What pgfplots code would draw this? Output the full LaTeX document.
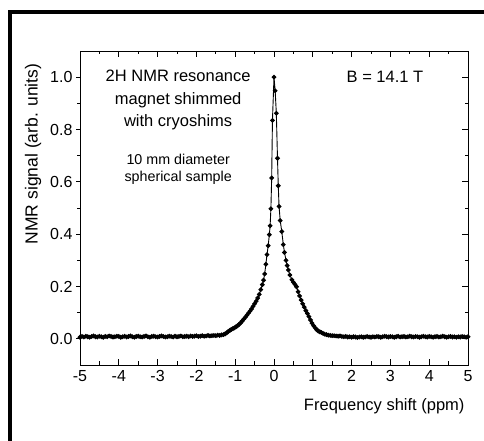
\documentclass[border=0pt]{standalone}
\usepackage{fontspec}
\setmainfont{Liberation Sans}
\usepackage{pgfplots}
\pgfplotsset{compat=1.18}

\pgfplotstableread{
x y
-5.00 0.006
-4.95 0.009
-4.90 0.007
-4.85 0.010
-4.80 0.008
-4.75 0.006
-4.70 0.009
-4.65 0.011
-4.60 0.008
-4.55 0.007
-4.50 0.010
-4.45 0.008
-4.40 0.006
-4.35 0.009
-4.30 0.008
-4.25 0.011
-4.20 0.009
-4.15 0.007
-4.10 0.008
-4.05 0.010
-4.00 0.009
-3.95 0.006
-3.90 0.008
-3.85 0.010
-3.80 0.007
-3.75 0.009
-3.70 0.011
-3.65 0.008
-3.60 0.006
-3.55 0.009
-3.50 0.010
-3.45 0.008
-3.40 0.007
-3.35 0.009
-3.30 0.011
-3.25 0.008
-3.20 0.006
-3.15 0.009
-3.10 0.010
-3.05 0.008
-3.00 0.007
-2.95 0.009
-2.90 0.011
-2.85 0.009
-2.80 0.007
-2.75 0.008
-2.70 0.010
-2.65 0.009
-2.60 0.007
-2.55 0.010
-2.50 0.008
-2.45 0.009
-2.40 0.011
-2.35 0.008
-2.30 0.009
-2.25 0.010
-2.20 0.008
-2.15 0.011
-2.10 0.009
-2.05 0.010
-2.00 0.012
-1.95 0.009
-1.90 0.010
-1.85 0.012
-1.80 0.010
-1.75 0.011
-1.70 0.013
-1.65 0.011
-1.60 0.012
-1.55 0.013
-1.50 0.012
-1.45 0.014
-1.40 0.013
-1.35 0.015
-1.30 0.016
-1.26 0.019
-1.22 0.023
-1.18 0.028
-1.14 0.032
-1.10 0.036
-1.06 0.039
-1.02 0.042
-0.98 0.046
-0.94 0.050
-0.90 0.055
-0.86 0.061
-0.82 0.068
-0.78 0.075
-0.74 0.082
-0.70 0.090
-0.66 0.098
-0.62 0.106
-0.58 0.114
-0.54 0.124
-0.50 0.134
-0.46 0.144
-0.42 0.156
-0.38 0.170
-0.34 0.188
-0.30 0.207
-0.27 0.224
-0.24 0.248
-0.21 0.285
-0.18 0.322
-0.15 0.356
-0.12 0.398
-0.10 0.432
-0.08 0.497
-0.06 0.615
-0.04 0.835
0.00 1.000
0.03 0.948
0.06 0.862
0.09 0.690
0.11 0.585
0.13 0.506
0.16 0.452
0.20 0.410
0.24 0.360
0.27 0.330
0.31 0.300
0.34 0.280
0.37 0.263
0.41 0.244
0.46 0.226
0.50 0.216
0.54 0.208
0.58 0.199
0.62 0.180
0.66 0.164
0.70 0.148
0.74 0.134
0.78 0.121
0.82 0.108
0.86 0.097
0.90 0.085
0.94 0.072
0.98 0.060
1.02 0.050
1.06 0.042
1.10 0.035
1.14 0.030
1.18 0.027
1.22 0.024
1.26 0.021
1.30 0.018
1.35 0.016
1.40 0.014
1.45 0.013
1.50 0.012
1.55 0.012
1.60 0.011
1.65 0.010
1.70 0.011
1.75 0.009
1.80 0.008
1.85 0.009
1.90 0.007
1.95 0.008
2.00 0.006
2.05 0.008
2.10 0.007
2.15 0.005
2.20 0.007
2.25 0.008
2.30 0.006
2.35 0.007
2.40 0.009
2.45 0.007
2.50 0.006
2.55 0.008
2.60 0.007
2.65 0.009
2.70 0.008
2.75 0.006
2.80 0.008
2.85 0.010
2.90 0.008
2.95 0.007
3.00 0.009
3.05 0.008
3.10 0.006
3.15 0.008
3.20 0.010
3.25 0.007
3.30 0.008
3.35 0.009
3.40 0.007
3.45 0.008
3.50 0.010
3.55 0.008
3.60 0.007
3.65 0.009
3.70 0.008
3.75 0.006
3.80 0.008
3.85 0.010
3.90 0.008
3.95 0.007
4.00 0.009
4.05 0.008
4.10 0.006
4.15 0.008
4.20 0.009
4.25 0.007
4.30 0.008
4.35 0.010
4.40 0.008
4.45 0.006
4.50 0.008
4.55 0.009
4.60 0.007
4.65 0.008
4.70 0.006
4.75 0.008
4.80 0.007
4.85 0.009
4.90 0.008
4.95 0.006
5.00 0.008
}\nmrdata

\begin{document}
\begin{tikzpicture}
\path[use as bounding box] (0,0) rectangle (484pt,441pt);
\draw[line width=4pt] (10pt,0) -- (10pt,429pt) -- (486pt,429pt);

% frame, x ticks (inside), right y ticks (inside), data
\begin{axis}[
  at={(80pt,76pt)}, anchor=south west,
  width=388pt, height=314pt, scale only axis,
  xmin=-5, xmax=5, ymin=-0.1, ymax=1.1,
  xtick={-5,-4,...,5}, minor x tick num=1,
  ytick={0,0.2,...,1.0}, minor y tick num=1,
  xtick pos=both, ytick pos=right, yticklabels={},
  tick align=inside,
  major tick length=6pt, minor tick length=3.5pt,
  tick style={black, line width=0.8pt},
  axis line style={line width=0.9pt},
  /pgf/number format/assume math mode=true,
  xticklabel style={font=\fontsize{16}{18}\selectfont, yshift=-2pt},
  xlabel={Frequency shift (ppm)},
  xlabel style={font=\fontsize{16.5}{19}\selectfont, at={(rel axis cs:1,0)}, anchor=east, yshift=-41pt},
  clip=true,
]
\addplot[black, line width=0.9pt, mark=*, mark size=1.9pt] table[x=x, y=y] {\nmrdata};

\node[font=\fontsize{16.5}{19}\selectfont] at (axis cs:-2.47,1.004) {2H NMR resonance};
\node[font=\fontsize{16.5}{19}\selectfont] at (axis cs:-2.47,0.912) {magnet shimmed};
\node[font=\fontsize{16.5}{19}\selectfont] at (axis cs:-2.47,0.828) {with cryoshims};
\node[font=\fontsize{14.3}{17}\selectfont] at (axis cs:-2.47,0.686) {10 mm diameter};
\node[font=\fontsize{14.3}{17}\selectfont] at (axis cs:-2.47,0.617) {spherical sample};
\node[font=\fontsize{16.5}{19}\selectfont] at (axis cs:2.86,1.0) {B = 14.1 T};
\end{axis}

% left y ticks (outside) with labels
\begin{axis}[
  at={(80pt,76pt)}, anchor=south west,
  width=388pt, height=314pt, scale only axis,
  xmin=-5, xmax=5, ymin=-0.1, ymax=1.1,
  xtick=\empty,
  ytick={0,0.2,...,1.0}, minor y tick num=1,
  ytick pos=left, tick align=outside,
  major tick length=4pt, minor tick length=2.7pt,
  tick style={black, line width=0.8pt},
  axis line style={line width=0.9pt},
  /pgf/number format/assume math mode=true,
  yticklabel style={font=\fontsize{16}{18}\selectfont,
    /pgf/number format/fixed, /pgf/number format/fixed zerofill,
    /pgf/number format/precision=1},
  ylabel={NMR signal (arb. units)},
  ylabel style={font=\fontsize{17.5}{20}\selectfont, at={(rel axis cs:0,0.672)}, anchor=center, yshift=47pt},
]
\end{axis}
\end{tikzpicture}
\end{document}
